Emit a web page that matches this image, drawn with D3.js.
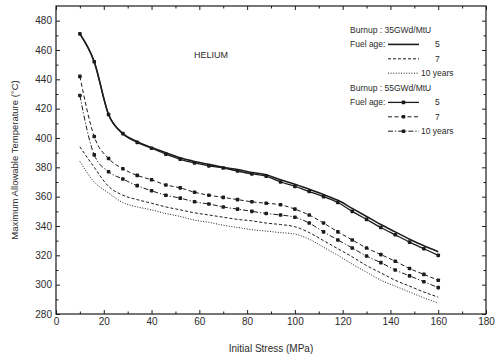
<!DOCTYPE html>
<html>
<head>
<meta charset="utf-8">
<script src="https://cdn.jsdelivr.net/npm/d3@7"></script>
<style>
  body { margin: 0; background: #fff; }
  svg { font-family: "Liberation Sans", Arial, sans-serif; }
  .tick text { font-size: 10px; fill: #2a2a2a; }
</style>
</head>
<body>
<div id="chart"></div>
<script>
// initial stress (MPa), one reading every 6 MPa
const stress = [10, 16, 22, 28, 34, 40, 46, 52, 58, 64, 70, 76, 82, 88, 94, 100, 106, 112, 118, 124, 130, 136, 142, 148, 154, 160];

// burnup 35 GWd/MtU
const b35_age5  = [471, 452, 416, 403, 397.5, 393.5, 390, 386.5, 384, 382, 380, 378.5, 376.5, 375, 371.5, 368.5, 365, 361.5, 357.5, 352, 346.5, 341, 336, 331, 326.5, 322.5];
const b35_age7  = [394, 380, 367, 361, 358, 355.5, 353, 351, 349, 347.5, 346, 344.5, 343.5, 342, 341, 339.5, 335.5, 330, 324.5, 319, 313, 308, 303, 299, 295, 291.5];
const b35_age10 = [384, 370, 362.5, 356, 353, 351, 348.5, 346.5, 344, 342.5, 340.5, 339, 337.5, 336.5, 335.5, 334.5, 331, 325.5, 320, 314, 308.5, 303, 299, 295, 291, 287.5];

// burnup 55 GWd/MtU
const b55_age5  = [471, 452, 416, 403, 397, 393, 389, 385.5, 383, 381, 379.5, 377.5, 375.5, 374, 370, 367, 363.5, 360, 356, 350, 344.5, 339, 334, 329, 324.5, 320];
const b55_age7  = [442, 401, 386, 379, 374.5, 371.5, 368, 366, 363, 361, 359.5, 358, 356.5, 355.5, 354.5, 351.5, 347.5, 342, 336, 330.5, 325, 320.5, 316, 311, 307, 303];
const b55_age10 = [429, 388.5, 377, 372, 367.5, 364, 361, 359, 356.5, 355, 353, 351.5, 350, 348.5, 347.5, 346, 342, 336, 330.5, 325, 319.5, 315, 310, 306, 302, 298];

const xTicks = [0, 20, 40, 60, 80, 100, 120, 140, 160, 180];
const yTicks = [280, 300, 320, 340, 360, 380, 400, 420, 440, 460, 480];

const burnupLabels = ["Burnup : 35GWd/MtU", "Burnup : 55GWd/MtU"];
const ageLabels = ["5", "7", "10 years"];

const width = 495, height = 360;
const margin = {top: 6, right: 9, bottom: 46, left: 56};

const svg = d3.select("#chart").append("svg")
  .attr("width", width)
  .attr("height", height);

const x = d3.scaleLinear().domain([0, 180]).range([margin.left, width - margin.right]);
const y = d3.scaleLinear().domain([280, 490]).range([height - margin.bottom, margin.top]);

const ink = "#1c1c1c";

// series styles
const series = [
  {vals: b35_age5,  dash: null,        width: 1.6, marker: false},
  {vals: b35_age7,  dash: "3,2",       width: 1,   marker: false},
  {vals: b35_age10, dash: "1,1.6",     width: 1,   marker: false},
  {vals: b55_age5,  dash: null,        width: 1.3, marker: true},
  {vals: b55_age7,  dash: "4,2.5",     width: 1,   marker: true},
  {vals: b55_age10, dash: "5,2,1.2,2", width: 1,   marker: true}
];

// axes: major ticks every 20, minor every 10, all pointing inward
function addAxis(gen, transform, values, size, labels) {
  const g = svg.append("g")
    .attr("transform", transform)
    .call(gen.tickValues(values).tickSize(size).tickSizeOuter(0).tickPadding(4)
      .tickFormat(labels ? d3.format("d") : ""));
  g.select(".domain").remove();
  g.selectAll(".tick line").attr("stroke", ink);
  return g;
}

const xMinor = d3.range(10, 180, 20);
const yMinor = d3.range(290, 490, 20);
const bottom = height - margin.bottom, right = width - margin.right;

addAxis(d3.axisBottom(x), `translate(0,${bottom})`, xTicks, -4, true);
addAxis(d3.axisBottom(x), `translate(0,${bottom})`, xMinor, -2.5, false);
addAxis(d3.axisTop(x), `translate(0,${margin.top})`, xTicks, -4, false);
addAxis(d3.axisTop(x), `translate(0,${margin.top})`, xMinor, -2.5, false);
addAxis(d3.axisLeft(y), `translate(${margin.left},0)`, yTicks, -4, true);
addAxis(d3.axisLeft(y), `translate(${margin.left},0)`, yMinor, -2.5, false);
addAxis(d3.axisRight(y), `translate(${right},0)`, yTicks, -4, false);
addAxis(d3.axisRight(y), `translate(${right},0)`, yMinor, -2.5, false);

// frame
svg.append("rect")
  .attr("x", margin.left).attr("y", margin.top)
  .attr("width", right - margin.left).attr("height", bottom - margin.top)
  .attr("fill", "none").attr("stroke", ink).attr("stroke-width", 1.2);

// curves
const line = d3.line()
  .x((d, i) => x(stress[i]))
  .y(d => y(d))
  .curve(d3.curveMonotoneX);

series.forEach(s => {
  svg.append("path")
    .datum(s.vals)
    .attr("d", line)
    .attr("fill", "none")
    .attr("stroke", ink)
    .attr("stroke-width", s.width)
    .attr("stroke-dasharray", s.dash);

  if (s.marker) {
    svg.append("g").selectAll("rect")
      .data(s.vals)
      .join("rect")
      .attr("x", (d, i) => x(stress[i]) - 1.8)
      .attr("y", d => y(d) - 1.8)
      .attr("width", 3.6).attr("height", 3.6)
      .attr("rx", 0.8)
      .attr("fill", ink);
  }
});

// labels
svg.append("text")
  .attr("x", (margin.left + right) / 2).attr("y", 352)
  .attr("text-anchor", "middle")
  .attr("font-size", 10).attr("fill", "#2a2a2a")
  .text("Initial Stress (MPa)");

svg.append("text")
  .attr("transform", `translate(18,${(margin.top + bottom) / 2}) rotate(-90)`)
  .attr("text-anchor", "middle")
  .attr("font-size", 9.5).attr("fill", "#2a2a2a")
  .text("Maximum Allowable Temperature (°C)");

svg.append("text")
  .attr("x", 211).attr("y", 58)
  .attr("text-anchor", "middle")
  .attr("font-size", 9).attr("fill", "#2a2a2a")
  .text("HELIUM");

// legend
const legend = svg.append("g").attr("font-size", 8.5).attr("fill", "#2a2a2a");
const rowH = 14.4;
series.forEach((s, i) => {
  const group = Math.floor(i / 3), age = i % 3;
  const top = 33 + group * 58;
  if (age === 0) {
    legend.append("text").attr("x", 350).attr("y", top).text(burnupLabels[group]);
    legend.append("text").attr("x", 350).attr("y", top + rowH).text("Fuel age:");
  }
  const ly = top + rowH * (age + 1) - 3;
  legend.append("line")
    .attr("x1", 388).attr("x2", 419)
    .attr("y1", ly).attr("y2", ly)
    .attr("stroke", ink)
    .attr("stroke-width", s.width)
    .attr("stroke-dasharray", s.dash);
  if (s.marker) {
    legend.append("rect")
      .attr("x", 401.7).attr("y", ly - 1.8)
      .attr("width", 3.6).attr("height", 3.6)
      .attr("rx", 0.8)
      .attr("fill", ink);
  }
  legend.append("text")
    .attr("x", age === 2 ? 421 : 435)
    .attr("y", top + rowH * (age + 1))
    .text(ageLabels[age]);
});
</script>
</body>
</html>
